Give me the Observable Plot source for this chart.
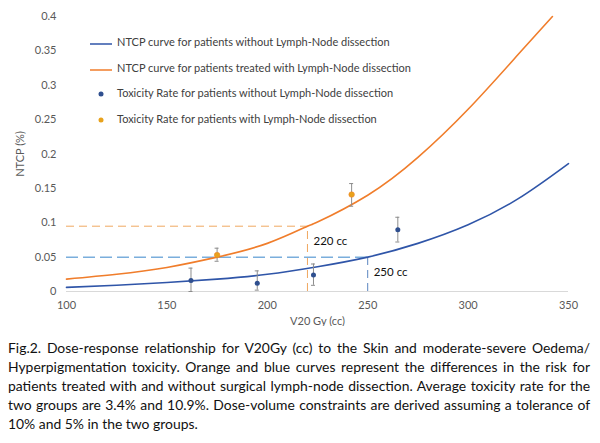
<!DOCTYPE html><html><head><meta charset="utf-8">
<script src="https://cdn.jsdelivr.net/npm/d3@7"></script>
<script src="https://cdn.jsdelivr.net/npm/@observablehq/plot@0.6"></script>
<style>
body{margin:0;background:#fff;font-family:Lato,"Open Sans",sans-serif}
#wrap{position:relative;width:600px}
#legend{position:absolute;left:90px;top:29px;font-size:11px;color:#404040}
#legend div{height:25.5px;display:flex;align-items:center}
#legend span.k{display:inline-block;width:22px;margin-right:5px;text-align:center}
#cap{margin:12px 10px 0 8px;font-size:13.9px;line-height:19px;text-align:justify;color:#111}
</style></head><body>
<div id="wrap"><div id="chart"></div>
<div id="legend">
<div><span class="k"><svg width="22" height="4"><line x1="0" x2="22" y1="2" y2="2" stroke="#2f55a8" stroke-width="1.5"/></svg></span>NTCP curve for patients without Lymph-Node dissection</div>
<div><span class="k"><svg width="22" height="4"><line x1="0" x2="22" y1="2" y2="2" stroke="#f07d2b" stroke-width="1.5"/></svg></span>NTCP curve for patients treated with Lymph-Node dissection</div>
<div><span class="k"><svg width="6" height="6"><circle cx="3" cy="3" r="2.5" fill="#2f4f8f"/></svg></span>Toxicity Rate for patients without Lymph-Node dissection</div>
<div><span class="k"><svg width="6" height="6"><circle cx="3" cy="3" r="2.5" fill="#e8a21c"/></svg></span>Toxicity Rate for patients with Lymph-Node dissection</div>
</div></div>
<div id="cap">Fig.2. Dose-response relationship for V20Gy (cc) to the Skin and moderate-severe Oedema/ Hyperpigmentation toxicity. Orange and blue curves represent the differences in the risk for patients treated with and without surgical lymph-node dissection. Average toxicity rate for the two groups are 3.4% and 10.9%. Dose-volume constraints are derived assuming a tolerance of 10% and 5% in the two groups.</div>
<script>
const curveX = [100,125,150,175,200,225,250,275,300,325,350];
const blueCurve = [0.006,0.009,0.013,0.018,0.025,0.036,0.05,0.07,0.097,0.135,0.186];
const orangeCurveX = [100,125,150,175,200,220,225,250,275,300,325,342];
const orangeCurve = [0.018,0.025,0.035,0.05,0.07,0.095,0.101,0.14,0.195,0.265,0.345,0.40];
const blueX=[162,195,223,265], blueY=[0.016,0.012,0.024,0.09], blueLo=[0,0.002,0.009,0.072], blueHi=[0.034,0.03,0.04,0.108];
const orX=[175,242], orY=[0.053,0.141], orLo=[0.044,0.124], orHi=[0.063,0.157];
const xTicks=[100,150,200,250,300,350], yTicks=[0,0.05,0.1,0.15,0.2,0.25,0.3,0.35,0.4];
const thrOrange={x:220,y:0.095}, thrBlue={x:250,y:0.05};

const bc=curveX.map((x,i)=>({x,y:blueCurve[i]}));
const oc=orangeCurveX.map((x,i)=>({x,y:orangeCurve[i]}));
const bp=blueX.map((x,i)=>({x,y:blueY[i],lo:blueLo[i],hi:blueHi[i]}));
const op=orX.map((x,i)=>({x,y:orY[i],lo:orLo[i],hi:orHi[i]}));
const all=bp.concat(op);
const caps=all.flatMap(d=>[{x:d.x,y:d.lo},{x:d.x,y:d.hi}]);
const gray="#8c8c8c";
const chart=Plot.plot({
 width:600,height:326,marginLeft:66,marginRight:32,marginTop:16,marginBottom:35,
 style:{fontFamily:"Lato, 'Open Sans', sans-serif",fontSize:"11px",color:"#595959"},
 x:{type:"linear",domain:[100,350],ticks:xTicks,tickSize:0,tickPadding:10,label:"V20 Gy (cc)",labelAnchor:"center",labelArrow:"none",labelOffset:33},
 y:{type:"linear",domain:[0,0.4],ticks:yTicks,tickSize:0,tickPadding:10,tickFormat:d=>String(+d.toFixed(2)),label:"NTCP (%)",labelAnchor:"center",labelArrow:"none",labelOffset:50},
 marks:[
  Plot.ruleY([0],{stroke:"#d9d9d9",strokeWidth:1}),
  Plot.ruleY([thrOrange],{x1:100,x2:d=>d.x,y:"y",stroke:"#f0a860",strokeDasharray:"8,5",strokeWidth:1}),
  Plot.ruleX([thrOrange],{x:"x",y1:0,y2:d=>d.y,stroke:"#f0a860",strokeDasharray:"8,5",strokeWidth:1}),
  Plot.ruleY([thrBlue],{x1:100,x2:d=>d.x,y:"y",stroke:"#7aaedc",strokeDasharray:"12,5",strokeWidth:1.5}),
  Plot.ruleX([thrBlue],{x:"x",y1:0,y2:d=>d.y,stroke:"#5b86c0",strokeDasharray:"8,5",strokeWidth:1}),
  Plot.line(bc,{x:"x",y:"y",curve:"natural",stroke:"#2f55a8",strokeWidth:1.6}),
  Plot.line(oc,{x:"x",y:"y",curve:"natural",stroke:"#f07d2b",strokeWidth:1.6}),
  Plot.ruleX(all,{x:"x",y1:"lo",y2:"hi",stroke:gray,strokeWidth:1}),
  Plot.ruleY(caps,{y:"y",x1:d=>d.x-1,x2:d=>d.x+1,stroke:gray,strokeWidth:1}),
  Plot.dot(bp,{x:"x",y:"y",r:2.5,fill:"#2f4f8f"}),
  Plot.dot(op,{x:"x",y:"y",r:2.8,fill:"#e8a21c",stroke:"#f07d2b",strokeWidth:0.5}),
  Plot.text([thrOrange],{x:"x",y:"y",text:()=>"220 cc",dx:6,dy:15,textAnchor:"start",fill:"#111",fontSize:11.5}),
  Plot.text([thrBlue],{x:"x",y:"y",text:()=>"250 cc",dx:6,dy:15,textAnchor:"start",fill:"#111",fontSize:11.5})
 ]});
document.getElementById("chart").append(chart);
</script></body></html>
